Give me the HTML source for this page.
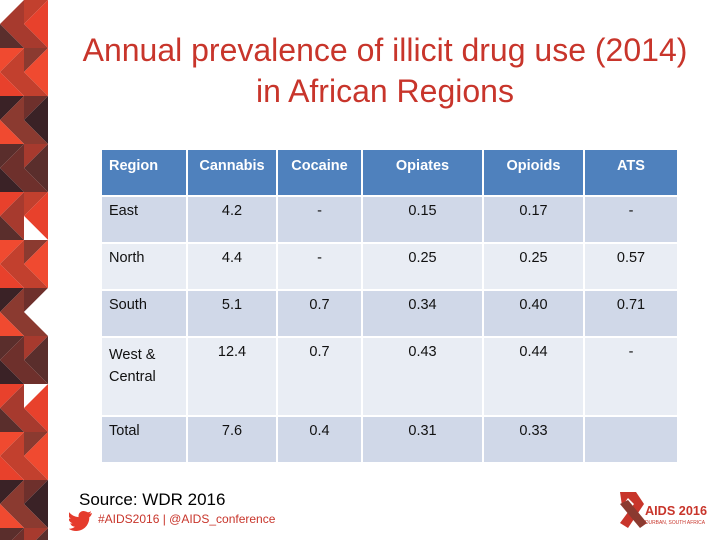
<!DOCTYPE html>
<html><head><meta charset="utf-8"><style>
html,body{margin:0;width:720px;height:540px;overflow:hidden}
body{background:#fff;position:relative;font-family:"Liberation Sans",sans-serif}
.title{position:absolute;left:50px;top:30px;width:670px;text-align:center;font-size:32px;line-height:41px;color:#c8352b}
table{position:absolute;left:100px;top:148px;border-collapse:separate;border-spacing:2px;font-family:"Liberation Sans",sans-serif;font-size:14.5px;color:#111}
td,th{padding:0;vertical-align:top}
th{background:#4f81bd;color:#fff;font-weight:bold;height:45px;padding-top:8px;box-sizing:border-box}
tr.o td{background:#d0d8e8}tr.e td{background:#e9edf4}
td{height:45px;padding-top:6px;box-sizing:border-box;text-align:center}
td:first-child,th:first-child{text-align:left;padding-left:7px}
.src{position:absolute;left:79px;top:490px;font-size:17px;color:#000}
.tw{position:absolute;left:98px;top:512px;font-size:12px;color:#c8352b;font-family:"Liberation Sans Narrow","Liberation Sans",sans-serif}
</style></head><body>
<svg id="strip" width="50" height="540" style="position:absolute;left:0;top:0"></svg>
<div class="title">Annual prevalence of illicit drug use (2014)<br>in African Regions</div>
<table>
<tr><th style="width:84px">Region</th><th style="width:88px">Cannabis</th><th style="width:83px">Cocaine</th><th style="width:119px">Opiates</th><th style="width:99px">Opioids</th><th style="width:92px">ATS</th></tr>
<tr class="o"><td style="height:44px">East</td><td>4.2</td><td>-</td><td>0.15</td><td>0.17</td><td>-</td></tr>
<tr class="e"><td>North</td><td>4.4</td><td>-</td><td>0.25</td><td>0.25</td><td>0.57</td></tr>
<tr class="o"><td>South</td><td>5.1</td><td>0.7</td><td>0.34</td><td>0.40</td><td>0.71</td></tr>
<tr class="e"><td style="height:77px;line-height:22px">West &amp;<br>Central</td><td>12.4</td><td>0.7</td><td>0.43</td><td>0.44</td><td>-</td></tr>
<tr class="o"><td>Total</td><td>7.6</td><td>0.4</td><td>0.31</td><td>0.33</td><td></td></tr>
</table>
<div class="src">Source: WDR 2016</div>
<svg width="24" height="20" style="position:absolute;left:69px;top:511px" viewBox="0 0 24 20"><path d="M23 2c-1 .4-2 .7-3 .8 1-.6 2-1.600 2-2.600-1 .6-2 1-3 1.200C17 .4 15.500 0 14.500 0 11.700 0 9.500 2.200 9.500 5c0 .4 0 .8.1 1.100C5.600 5.900 2.300 4 .2 1.300c-.4.700-.6 1.600-.6 2.500 0 1.700.9 3.300 2.200 4.100-.8 0-1.600-.3-2.200-.6 0 2.400 1.700 4.400 3.900 4.900-.7.200-1.600.200-2.200.1.600 2 2.400 3.400 4.600 3.400C4.100 17.100 1.900 17.900-.5 17.700 1.700 19.100 4.300 20 7.100 20c8.500 0 13.200-7 13.200-13.200v-.6C21.600 5.300 22.400 4.300 23 2z" fill="#e53b2c"/></svg>
<div class="tw">#AIDS2016 | @AIDS_conference</div>
<svg width="100" height="40" style="position:absolute;left:612px;top:490px;overflow:hidden">
<path d="M8 2 L24 2 L32 14 L16 38 L8 33 L22 14 L16 8 L10 16 Z" fill="#c8352b"/><path d="M8 14 L28 38 L35 33 L16 10 Z" fill="#8b3a30"/>
<text x="33" y="25" font-family="Liberation Sans Narrow,Liberation Sans,sans-serif" font-size="13" font-weight="bold" fill="#c8352b" textLength="62" lengthAdjust="spacingAndGlyphs">AIDS 2016</text>
<text x="33" y="34" font-family="Liberation Sans,sans-serif" font-size="5" fill="#c8352b" textLength="60" lengthAdjust="spacingAndGlyphs">DURBAN, SOUTH AFRICA</text></svg>
<script>
var s=document.getElementById('strip'),cols=['#e8412c','#8b3a30','#5a2e2c','#c2402e','#3a2226','#a73a2e','#f04a30','#6e302c'];
var k=0;
for(var y=0;y<540;y+=48){for(var x=0;x<48;x+=24){
var pts=[[x,y,x+24,y,x,y+24],[x+24,y,x+24,Math.min(y+48,540),x,y+24],[x,y+24,x+24,Math.min(y+48,540),x,Math.min(y+48,540)]];
for(var i=0;i<3;i++){var p=document.createElementNS('http://www.w3.org/2000/svg','polygon');


var c=pts[i];p.setAttribute('points',c[0]+','+c[1]+' '+c[2]+','+c[3]+' '+c[4]+','+c[5]);
p.setAttribute('fill',(k*5+i*3)%17==0?'#fff':cols[(k*3+i*5+x)%8]);s.appendChild(p);}k++;}}
</script>
</body></html>
